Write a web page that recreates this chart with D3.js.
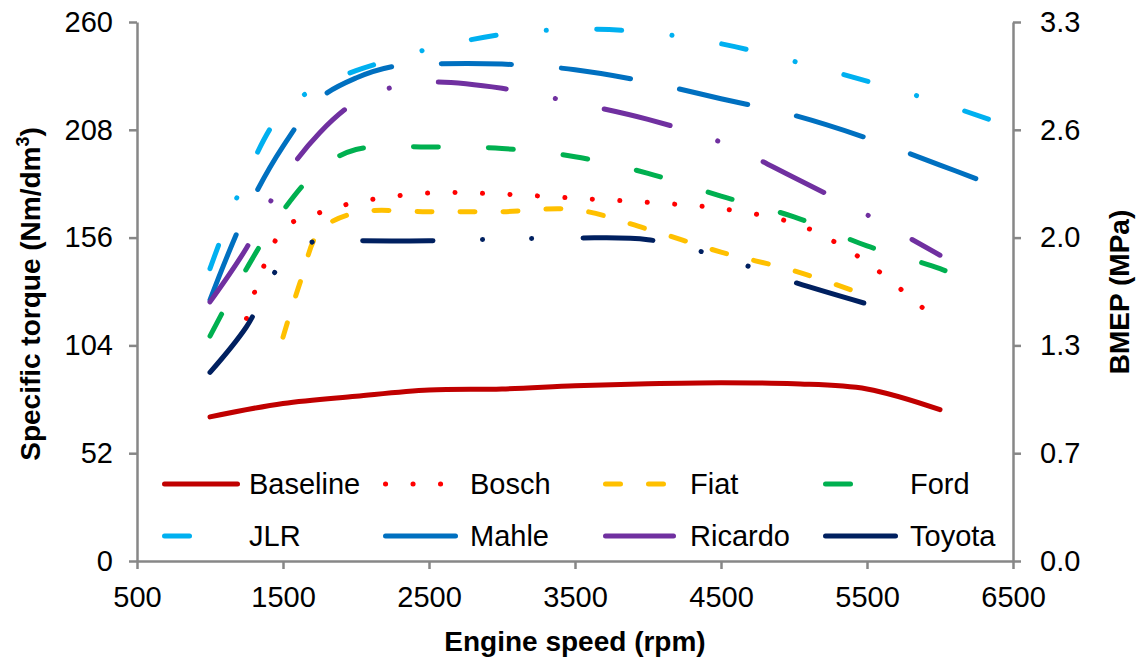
<!DOCTYPE html>
<html>
<head>
<meta charset="utf-8">
<script src="https://cdn.jsdelivr.net/npm/d3@7"></script>
<style>
  html, body { margin: 0; padding: 0; background: #ffffff; }
  svg { display: block; font-family: "Liberation Sans", Arial, sans-serif; }
</style>
</head>
<body>
<svg id="chart" width="1140" height="661"></svg>
<script>
// ---- data: engine speed (rpm) and specific torque (Nm/dm3) per programme ----
const seriesNames = ["Baseline", "Bosch", "Fiat", "Ford", "JLR", "Mahle", "Ricardo", "Toyota"];

const rpmBaseline    = [1000, 1500, 2000, 2500, 3000, 3500, 4000, 4500, 5000, 5500, 6000];
const torqueBaseline = [69.5, 76, 79.5, 82.5, 83, 84.5, 85.5, 86, 85.5, 83, 73];

const rpmBosch    = [1250, 1500, 1750, 2000, 2500, 3000, 3500, 4000, 4500, 5000, 5250, 5500, 5750, 5900];
const torqueBosch = [117, 160, 168, 173, 177.5, 177, 175, 173, 170, 163, 155, 144, 130, 121];

const rpmFiat    = [1500, 1625, 1750, 2000, 2500, 3000, 3500, 4000, 4500, 5000, 5500];
const torqueFiat = [108, 136, 159, 168, 168.5, 168.5, 169.5, 160, 149, 140, 128];

const rpmFord    = [1000, 1250, 1500, 1750, 2000, 2500, 3000, 3500, 4000, 4500, 5000, 5500, 6000, 6200];
const torqueFord = [108.5, 141, 169, 189, 198.5, 199.7, 199, 195, 187, 176, 166, 152, 141, 135];

const rpmJLR    = [1000, 1250, 1500, 1750, 2000, 2250, 2500, 3000, 3500, 4000, 4500, 5000, 5500, 6000, 6350];
const torqueJLR = [141, 186, 217, 229, 236.5, 242, 247, 254, 256.5, 255, 249.5, 241, 231.5, 221, 212.7];

const rpmMahle    = [1000, 1250, 1500, 1750, 2000, 2250, 2500, 3000, 3500, 4000, 4500, 5000, 5500, 6000, 6300];
const torqueMahle = [126, 168.5, 200, 223, 233, 238.5, 239.7, 239.7, 237, 231, 223, 215, 204, 191, 183];

const rpmRicardo    = [1000, 1250, 1500, 1750, 2000, 2250, 2500, 3000, 3500, 4000, 4500, 5000, 5500, 6000];
const torqueRicardo = [125, 151, 184, 206.5, 221.5, 228.5, 231, 228, 221, 213, 202, 185, 167, 147.5];

const rpmToyota    = [1000, 1250, 1500, 1750, 2000, 2500, 3000, 3500, 4000, 4500, 5000, 5500];
const torqueToyota = [91, 113, 144.5, 155, 154.5, 154.5, 155.3, 155.8, 155, 146.5, 134.5, 124];

// axis ticks
const speedTicks  = [500, 1500, 2500, 3500, 4500, 5500, 6500];
const torqueTicks = [0, 52, 104, 156, 208, 260];

// ---- build series table ----
const series = [
  { name: "Baseline", rpm: rpmBaseline, torque: torqueBaseline },
  { name: "Bosch",    rpm: rpmBosch,    torque: torqueBosch },
  { name: "Fiat",     rpm: rpmFiat,     torque: torqueFiat },
  { name: "Ford",     rpm: rpmFord,     torque: torqueFord },
  { name: "JLR",      rpm: rpmJLR,      torque: torqueJLR },
  { name: "Mahle",    rpm: rpmMahle,    torque: torqueMahle },
  { name: "Ricardo",  rpm: rpmRicardo,  torque: torqueRicardo },
  { name: "Toyota",   rpm: rpmToyota,   torque: torqueToyota }
].map(s => ({ name: s.name, points: s.rpm.map((r, i) => ({ rpm: r, t: s.torque[i] })) }));

// ---- line styles ----
const style = {
  Baseline: { color: "#C00000", dash: null },
  Bosch:    { color: "#FF0000", dash: "0.1,27.4" },
  Fiat:     { color: "#FFC000", dash: "15,28" },
  Ford:     { color: "#00B050", dash: "25,50" },
  JLR:      { color: "#00B0F0", dash: "25,50.5,0.1,50.4" },
  Mahle:    { color: "#0070C0", dash: "70,50" },
  Ricardo:  { color: "#7030A0", dash: "68,50,0.1,49.9" },
  Toyota:   { color: "#002060", dash: "70,49.5,0.1,49,0.1,51.4" }
};
const lineWidth = 5;

// ---- scales ----
const plot = { left: 137, right: 1013, top: 22, bottom: 561 };
const x = d3.scaleLinear().domain([500, 6500]).range([plot.left, plot.right]);
const y = d3.scaleLinear().domain([0, 260]).range([plot.bottom, plot.top]);
// BMEP (MPa) = 4*pi * specific torque (Nm/dm3) / 1000 for a four-stroke engine
const toBMEP = t => 4 * Math.PI * t / 1000;
const yR = d3.scaleLinear().domain([0, toBMEP(260)]).range([plot.bottom, plot.top]);

const svg = d3.select("#chart");
const axisColor = "#878787";
const fontSize = 29;

function styleAxis(g) {
  g.select(".domain").attr("stroke", axisColor).attr("stroke-width", 2.5);
  g.selectAll(".tick line").attr("stroke", axisColor).attr("stroke-width", 2.5);
  g.selectAll(".tick text").attr("fill", "#000").style("font-size", fontSize + "px")
    .style("font-family", "'Liberation Sans', Arial, sans-serif");
}

// x axis
svg.append("g")
  .attr("transform", `translate(0,${plot.bottom})`)
  .call(d3.axisBottom(x).tickValues(speedTicks).tickFormat(d3.format("d"))
    .tickSize(8).tickSizeOuter(0).tickPadding(17))
  .call(styleAxis);

// left axis
svg.append("g")
  .attr("transform", `translate(${plot.left},0)`)
  .call(d3.axisLeft(y).tickValues(torqueTicks).tickFormat(d3.format("d"))
    .tickSize(8).tickSizeOuter(0).tickPadding(16))
  .call(styleAxis);

// right axis (BMEP)
svg.append("g")
  .attr("transform", `translate(${plot.right},0)`)
  .call(d3.axisRight(yR).tickValues(torqueTicks.map(toBMEP)).tickFormat(d3.format(".1f"))
    .tickSize(8).tickSizeOuter(0).tickPadding(19))
  .call(styleAxis);

// axis titles
const titleSize = 28;
svg.append("text")
  .attr("x", (plot.left + plot.right) / 2).attr("y", 651)
  .attr("text-anchor", "middle")
  .style("font-size", titleSize + "px").style("font-weight", "bold")
  .text("Engine speed (rpm)");

const leftTitle = svg.append("text")
  .attr("transform", `translate(40,294) rotate(-90)`)
  .attr("text-anchor", "middle")
  .style("font-size", titleSize + "px").style("font-weight", "bold");
leftTitle.append("tspan").text("Specific torque (Nm/dm");
leftTitle.append("tspan").attr("dy", -11).style("font-size", "18px").text("3");
leftTitle.append("tspan").attr("dy", 11).text(")");

svg.append("text")
  .attr("transform", `translate(1129,292) rotate(-90)`)
  .attr("text-anchor", "middle")
  .style("font-size", titleSize + "px").style("font-weight", "bold")
  .text("BMEP (MPa)");

// ---- series lines ----
const line = d3.line()
  .x(d => x(d.rpm))
  .y(d => y(d.t))
  .curve(d3.curveCatmullRom.alpha(0.5));

svg.append("g").selectAll("path")
  .data(series)
  .join("path")
  .attr("d", d => line(d.points))
  .attr("fill", "none")
  .attr("stroke", d => style[d.name].color)
  .attr("stroke-width", lineWidth)
  .attr("stroke-linecap", "round")
  .attr("stroke-linejoin", "round")
  .attr("stroke-dasharray", d => style[d.name].dash);

// ---- legend: 4 columns x 2 rows ----
const legendCols = [162, 383, 603, 823];
const legendRows = [484, 536];
const legend = svg.append("g").selectAll("g")
  .data(seriesNames)
  .join("g")
  .attr("transform", (d, i) => `translate(${legendCols[i % 4]},${legendRows[Math.floor(i / 4)]})`);

legend.append("line")
  .attr("x1", 2.5).attr("x2", 75.5).attr("y1", 0).attr("y2", 0)
  .attr("stroke", d => style[d].color)
  .attr("stroke-width", lineWidth)
  .attr("stroke-linecap", "round")
  .attr("stroke-dasharray", d => style[d].dash);

legend.append("text")
  .attr("x", 87).attr("y", 0).attr("dy", "0.35em")
  .style("font-size", fontSize + "px")
  .attr("fill", "#000")
  .text(d => d);
</script>
</body>
</html>
